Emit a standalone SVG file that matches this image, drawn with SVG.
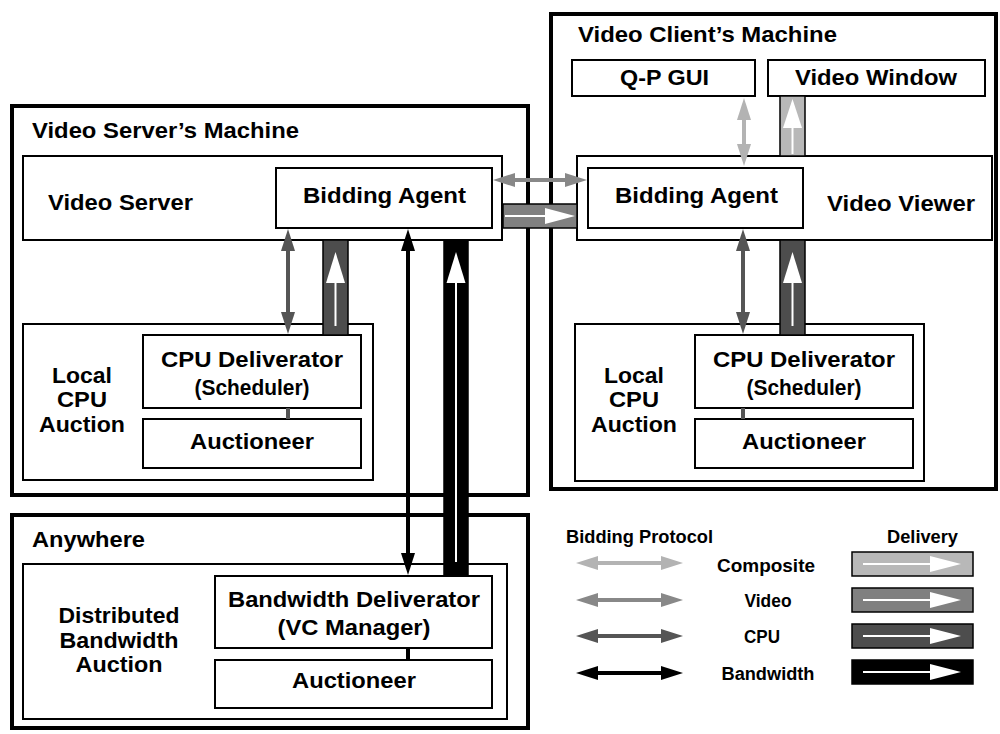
<svg xmlns="http://www.w3.org/2000/svg" width="1000" height="734" viewBox="0 0 1000 734">
  <defs>
    <style>
      text { font-family: "Liberation Sans", Arial, Helvetica, sans-serif; font-weight: bold; fill: #000; }
      .big { font-size: 22.5px; }
      .leg { font-size: 18px; }
      .mid { text-anchor: middle; }
      .machine { fill: #fff; stroke: #000; stroke-width: 4; }
      .box { fill: #fff; stroke: #000; stroke-width: 2; }
      .strip { stroke: #000; stroke-width: 1.5; }
      .wline { stroke: #fff; stroke-width: 2; }
      .whead { fill: #fff; }
      .bid { fill: none; stroke-width: 4; }
      .composite { stroke: #b3b3b3; }
      .video { stroke: #888; }
      .cpu { stroke: #555; }
      .bw { stroke: #000; }
      .tie { stroke-width: 4; }
    </style>
    <marker id="hComposite" markerUnits="userSpaceOnUse" markerWidth="24" markerHeight="16" refX="2" refY="0" orient="auto-start-reverse" overflow="visible">
      <path d="M0,-7 L22,0 L0,7 z" fill="#b3b3b3"/>
    </marker>
    <marker id="hVideo" markerUnits="userSpaceOnUse" markerWidth="24" markerHeight="16" refX="2" refY="0" orient="auto-start-reverse" overflow="visible">
      <path d="M0,-7 L22,0 L0,7 z" fill="#888"/>
    </marker>
    <marker id="hCpu" markerUnits="userSpaceOnUse" markerWidth="24" markerHeight="16" refX="2" refY="0" orient="auto-start-reverse" overflow="visible">
      <path d="M0,-7 L22,0 L0,7 z" fill="#555"/>
    </marker>
    <marker id="hBw" markerUnits="userSpaceOnUse" markerWidth="24" markerHeight="16" refX="2" refY="0" orient="auto-start-reverse" overflow="visible">
      <path d="M0,-7 L22,0 L0,7 z" fill="#000"/>
    </marker>
  </defs>

  <rect width="1000" height="734" fill="#fff"/>

  <!-- Video server's machine -->
  <g id="server-machine">
    <rect class="machine" x="12" y="106" width="516" height="389"/>
    <text class="big" x="32" y="138" textLength="267" lengthAdjust="spacingAndGlyphs">Video Server’s Machine</text>
  </g>
  <g id="video-server">
    <rect class="box" x="23" y="156" width="479" height="84"/>
    <text class="big" x="48" y="210" textLength="145" lengthAdjust="spacingAndGlyphs">Video Server</text>
  </g>
  <g id="server-bidding-agent">
    <rect class="box" x="276" y="168" width="216" height="60"/>
    <text class="big mid" x="384.5" y="203" textLength="163" lengthAdjust="spacingAndGlyphs">Bidding Agent</text>
  </g>
  <g id="server-cpu-auction">
    <rect class="box" x="23" y="324" width="350" height="156"/>
    <text class="big mid" x="82" y="383" textLength="60" lengthAdjust="spacingAndGlyphs">Local</text>
    <text class="big mid" x="82" y="407" textLength="50" lengthAdjust="spacingAndGlyphs">CPU</text>
    <text class="big mid" x="82" y="432" textLength="86" lengthAdjust="spacingAndGlyphs">Auction</text>
  </g>
  <g id="server-cpu-deliverator">
    <rect class="box" x="143" y="335" width="218" height="73"/>
    <text class="big mid" x="252" y="367" textLength="182" lengthAdjust="spacingAndGlyphs">CPU Deliverator</text>
    <text class="big mid" x="252" y="395" textLength="115" lengthAdjust="spacingAndGlyphs">(Scheduler)</text>
  </g>
  <g id="server-auctioneer">
    <rect class="box" x="143" y="419" width="218" height="49"/>
    <text class="big mid" x="252" y="449" textLength="124" lengthAdjust="spacingAndGlyphs">Auctioneer</text>
  </g>

  <!-- Video client's machine -->
  <g id="client-machine">
    <rect class="machine" x="551" y="14" width="445" height="475"/>
    <text class="big" x="578" y="42" textLength="259" lengthAdjust="spacingAndGlyphs">Video Client’s Machine</text>
  </g>
  <g id="qp-gui">
    <rect class="box" x="572" y="60" width="183" height="36"/>
    <text class="big mid" x="664.5" y="85" textLength="89" lengthAdjust="spacingAndGlyphs">Q-P GUI</text>
  </g>
  <g id="video-window">
    <rect class="box" x="768" y="60" width="217" height="36"/>
    <text class="big mid" x="876" y="85" textLength="162" lengthAdjust="spacingAndGlyphs">Video Window</text>
  </g>
  <g id="video-viewer">
    <rect class="box" x="577" y="156" width="415" height="84"/>
    <text class="big" x="827" y="211" textLength="148" lengthAdjust="spacingAndGlyphs">Video Viewer</text>
  </g>
  <g id="client-bidding-agent">
    <rect class="box" x="588" y="168" width="215" height="60"/>
    <text class="big mid" x="696.5" y="203" textLength="163" lengthAdjust="spacingAndGlyphs">Bidding Agent</text>
  </g>
  <g id="client-cpu-auction">
    <rect class="box" x="575" y="324" width="349" height="157"/>
    <text class="big mid" x="634" y="383" textLength="60" lengthAdjust="spacingAndGlyphs">Local</text>
    <text class="big mid" x="634" y="407" textLength="50" lengthAdjust="spacingAndGlyphs">CPU</text>
    <text class="big mid" x="634" y="432" textLength="86" lengthAdjust="spacingAndGlyphs">Auction</text>
  </g>
  <g id="client-cpu-deliverator">
    <rect class="box" x="695" y="335" width="218" height="73"/>
    <text class="big mid" x="804" y="367" textLength="182" lengthAdjust="spacingAndGlyphs">CPU Deliverator</text>
    <text class="big mid" x="804" y="395" textLength="115" lengthAdjust="spacingAndGlyphs">(Scheduler)</text>
  </g>
  <g id="client-auctioneer">
    <rect class="box" x="695" y="419" width="218" height="49"/>
    <text class="big mid" x="804" y="449" textLength="124" lengthAdjust="spacingAndGlyphs">Auctioneer</text>
  </g>

  <!-- Anywhere -->
  <g id="anywhere">
    <rect class="machine" x="12" y="515" width="516" height="213"/>
    <text class="big" x="32" y="547" textLength="113" lengthAdjust="spacingAndGlyphs">Anywhere</text>
  </g>
  <g id="bandwidth-auction">
    <rect class="box" x="23" y="564" width="484" height="155"/>
    <text class="big mid" x="119" y="623" textLength="121" lengthAdjust="spacingAndGlyphs">Distributed</text>
    <text class="big mid" x="119" y="648" textLength="119" lengthAdjust="spacingAndGlyphs">Bandwidth</text>
    <text class="big mid" x="119" y="672" textLength="87" lengthAdjust="spacingAndGlyphs">Auction</text>
  </g>
  <g id="bandwidth-deliverator">
    <rect class="box" x="215" y="576" width="277" height="72"/>
    <text class="big mid" x="354" y="607" textLength="252" lengthAdjust="spacingAndGlyphs">Bandwidth Deliverator</text>
    <text class="big mid" x="354" y="635" textLength="153" lengthAdjust="spacingAndGlyphs">(VC Manager)</text>
  </g>
  <g id="bandwidth-auctioneer">
    <rect class="box" x="215" y="660" width="277" height="48"/>
    <text class="big mid" x="354" y="688" textLength="124" lengthAdjust="spacingAndGlyphs">Auctioneer</text>
  </g>

  <!-- Legend -->
  <g id="legend">
    <text class="leg" x="566" y="543" textLength="147" lengthAdjust="spacingAndGlyphs">Bidding Protocol</text>
    <text class="leg" x="887" y="543" textLength="71" lengthAdjust="spacingAndGlyphs">Delivery</text>
    <text class="leg mid" x="766" y="572" textLength="98" lengthAdjust="spacingAndGlyphs">Composite</text>
    <text class="leg mid" x="768" y="607" textLength="47" lengthAdjust="spacingAndGlyphs">Video</text>
    <text class="leg mid" x="762" y="643" textLength="36" lengthAdjust="spacingAndGlyphs">CPU</text>
    <text class="leg mid" x="768" y="680" textLength="93" lengthAdjust="spacingAndGlyphs">Bandwidth</text>

    <line class="bid composite" x1="596" y1="563" x2="663" y2="563" marker-start="url(#hComposite)" marker-end="url(#hComposite)"/>
    <line class="bid video" x1="596" y1="600" x2="663" y2="600" marker-start="url(#hVideo)" marker-end="url(#hVideo)"/>
    <line class="bid cpu" x1="596" y1="636" x2="663" y2="636" marker-start="url(#hCpu)" marker-end="url(#hCpu)"/>
    <line class="bid bw" x1="596" y1="673" x2="663" y2="673" marker-start="url(#hBw)" marker-end="url(#hBw)"/>

    <rect class="strip" x="852" y="552" width="121" height="24" fill="#b8b8b8"/>
    <line class="wline" x1="863" y1="564" x2="934" y2="564"/>
    <polygon class="whead" points="961,564 930,556 930,572"/>
    <rect class="strip" x="852" y="588" width="121" height="24" fill="#808080"/>
    <line class="wline" x1="863" y1="600" x2="934" y2="600"/>
    <polygon class="whead" points="961,600 930,592 930,608"/>
    <rect class="strip" x="852" y="624" width="121" height="24" fill="#4d4d4d"/>
    <line class="wline" x1="863" y1="636" x2="934" y2="636"/>
    <polygon class="whead" points="961,636 930,628 930,644"/>
    <rect class="strip" x="852" y="660" width="121" height="24" fill="#000"/>
    <line class="wline" x1="863" y1="672" x2="934" y2="672"/>
    <polygon class="whead" points="961,672 930,664 930,680"/>
  </g>

  <!-- Connectors: bidding protocol arrows, delivery channels and internal ties -->
  <g id="connectors">
    <!-- deliverator / auctioneer ties -->
    <line class="tie cpu" x1="288" y1="408" x2="288" y2="419"/>
    <line class="tie cpu" x1="743" y1="408" x2="743" y2="419"/>
    <line class="tie bw" x1="408" y1="648" x2="408" y2="660"/>

    <!-- delivery channels -->
    <rect class="strip" x="780" y="96" width="25" height="60" fill="#b8b8b8"/>
    <line class="wline" x1="792.5" y1="126" x2="792.5" y2="154"/>
    <polygon class="whead" points="792.5,99 783,128 802,128"/>

    <rect class="strip" x="503" y="204" width="74" height="24" fill="#808080"/>
    <line class="wline" x1="505" y1="216" x2="548" y2="216"/>
    <polygon class="whead" points="575,216 545,208 545,224"/>

    <rect class="strip" x="323" y="240" width="25" height="95" fill="#4d4d4d"/>
    <line class="wline" x1="335.5" y1="280" x2="335.5" y2="326"/>
    <polygon class="whead" points="335.5,252 326,283 345,283"/>

    <rect class="strip" x="780" y="240" width="25" height="95" fill="#4d4d4d"/>
    <line class="wline" x1="792.5" y1="280" x2="792.5" y2="326"/>
    <polygon class="whead" points="792.5,252 783,283 802,283"/>

    <rect class="strip" x="444" y="240" width="24" height="336" fill="#000"/>
    <line class="wline" x1="456" y1="280" x2="456" y2="562"/>
    <polygon class="whead" points="456,252 446.5,283 465.5,283"/>

    <!-- bidding protocol arrows -->
    <line class="bid composite" x1="744" y1="118" x2="744" y2="146" marker-start="url(#hComposite)" marker-end="url(#hComposite)"/>
    <line class="bid video" x1="513" y1="180" x2="567" y2="180" marker-start="url(#hVideo)" marker-end="url(#hVideo)"/>
    <line class="bid cpu" x1="288" y1="249" x2="288" y2="314" marker-start="url(#hCpu)" marker-end="url(#hCpu)"/>
    <line class="bid cpu" x1="743" y1="249" x2="743" y2="314" marker-start="url(#hCpu)" marker-end="url(#hCpu)"/>
    <line class="bid bw" x1="408" y1="249" x2="408" y2="555" marker-start="url(#hBw)" marker-end="url(#hBw)"/>
  </g>
</svg>
